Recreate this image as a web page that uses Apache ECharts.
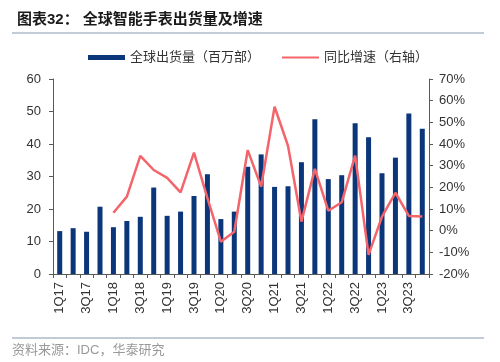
<!DOCTYPE html>
<html>
<head>
<meta charset="utf-8">
<script src="https://cdn.jsdelivr.net/npm/echarts@6/dist/echarts.min.js"></script>
<style>html,body{margin:0;padding:0;background:#fff;}#c{width:500px;height:362px;}</style>
</head>
<body>
<div id="c"></div>
<script>
var categories = ['1Q17','2Q17','3Q17','4Q17','1Q18','2Q18','3Q18','4Q18','1Q19','2Q19','3Q19','4Q19','1Q20','2Q20','3Q20','4Q20','1Q21','2Q21','3Q21','4Q21','1Q22','2Q22','3Q22','4Q22','1Q23','2Q23','3Q23','4Q23'];
var shipments = [13.2,14.1,13.0,20.7,14.4,16.3,17.6,26.6,17.9,19.2,24.0,30.7,16.9,19.2,33.0,36.8,26.8,27.0,34.4,47.6,29.2,30.4,46.4,42.1,31.0,35.8,49.4,44.7];
var growth = [null,null,null,null,8.3,15.7,34.5,28.0,24.4,17.7,36.0,15.0,-5.1,-0.5,37.2,20.3,57.2,39.2,4.2,28.5,9.2,13.1,34.6,-11.2,6.5,17.5,6.8,6.5];
var leftTicks = {min:0, max:60, interval:10};
var rightTicks = {min:-20, max:70, interval:10};

var FONT = "'Liberation Sans', 'Noto Sans CJK SC', sans-serif";
var chart = echarts.init(document.getElementById('c'), null, {renderer:'canvas'});
chart.setOption({
  animation:false,
  title:{
    text:'图表32： 全球智能手表出货量及增速',
    left:12, top:7,
    textStyle:{fontFamily:FONT, fontSize:15, fontWeight:'bold', color:'#1a1a1a'}
  },
  graphic:[
    {type:'line', shape:{x1:12,y1:33,x2:484,y2:33}, style:{stroke:'#8497b0', lineWidth:1}},
    {type:'line', shape:{x1:12,y1:338,x2:484,y2:338}, style:{stroke:'#8497b0', lineWidth:1}},
    {type:'text', left:12, top:344, style:{text:'资料来源：IDC，华泰研究', fontFamily:FONT, fontSize:13, fill:'#999999'}}
  ],
  legend:{
    left:83, top:46,
    itemWidth:37, itemHeight:5, itemGap:22,
    textStyle:{fontFamily:FONT, fontSize:13, color:'#333'},
    data:[
      {name:'全球出货量（百万部）', icon:'rect'},
      {name:'同比增速（右轴）', icon:'path://M0,0 H37 V2.2 H0 Z', itemStyle:{color:'#f4646b'}}
    ]
  },
  grid:{left:53, right:71, top:79, bottom:88, containLabel:false},
  xAxis:{
    type:'category', data:categories, boundaryGap:true,
    axisLine:{lineStyle:{color:'#595959', width:1}},
    axisTick:{show:true, interval:0, length:4, alignWithLabel:false, lineStyle:{color:'#595959'}},
    axisLabel:{interval:1, rotate:90, margin:8, fontFamily:FONT, fontSize:13, color:'#333'}
  },
  yAxis:[
    {type:'value', min:leftTicks.min, max:leftTicks.max, interval:leftTicks.interval,
     splitLine:{show:false},
     axisLine:{show:true, lineStyle:{color:'#595959'}},
     axisTick:{show:true, length:4, lineStyle:{color:'#595959'}},
     axisLabel:{margin:12, fontFamily:FONT, fontSize:13, color:'#333'}},
    {type:'value', min:rightTicks.min, max:rightTicks.max, interval:rightTicks.interval,
     splitLine:{show:false},
     axisLine:{show:true, lineStyle:{color:'#595959'}},
     axisTick:{show:true, length:4, lineStyle:{color:'#595959'}},
     axisLabel:{margin:10, fontFamily:FONT, fontSize:13, color:'#333', formatter:'{value}%'}}
  ],
  series:[
    {name:'全球出货量（百万部）', type:'bar', data:shipments, barWidth:5,
     itemStyle:{color:'#0b3679'}},
    {name:'同比增速（右轴）', type:'line', yAxisIndex:1, data:growth,
     symbol:'none', connectNulls:false,
     lineStyle:{color:'#f4646b', width:2.5}, itemStyle:{color:'#f4646b'}}
  ]
});
</script>
</body>
</html>
